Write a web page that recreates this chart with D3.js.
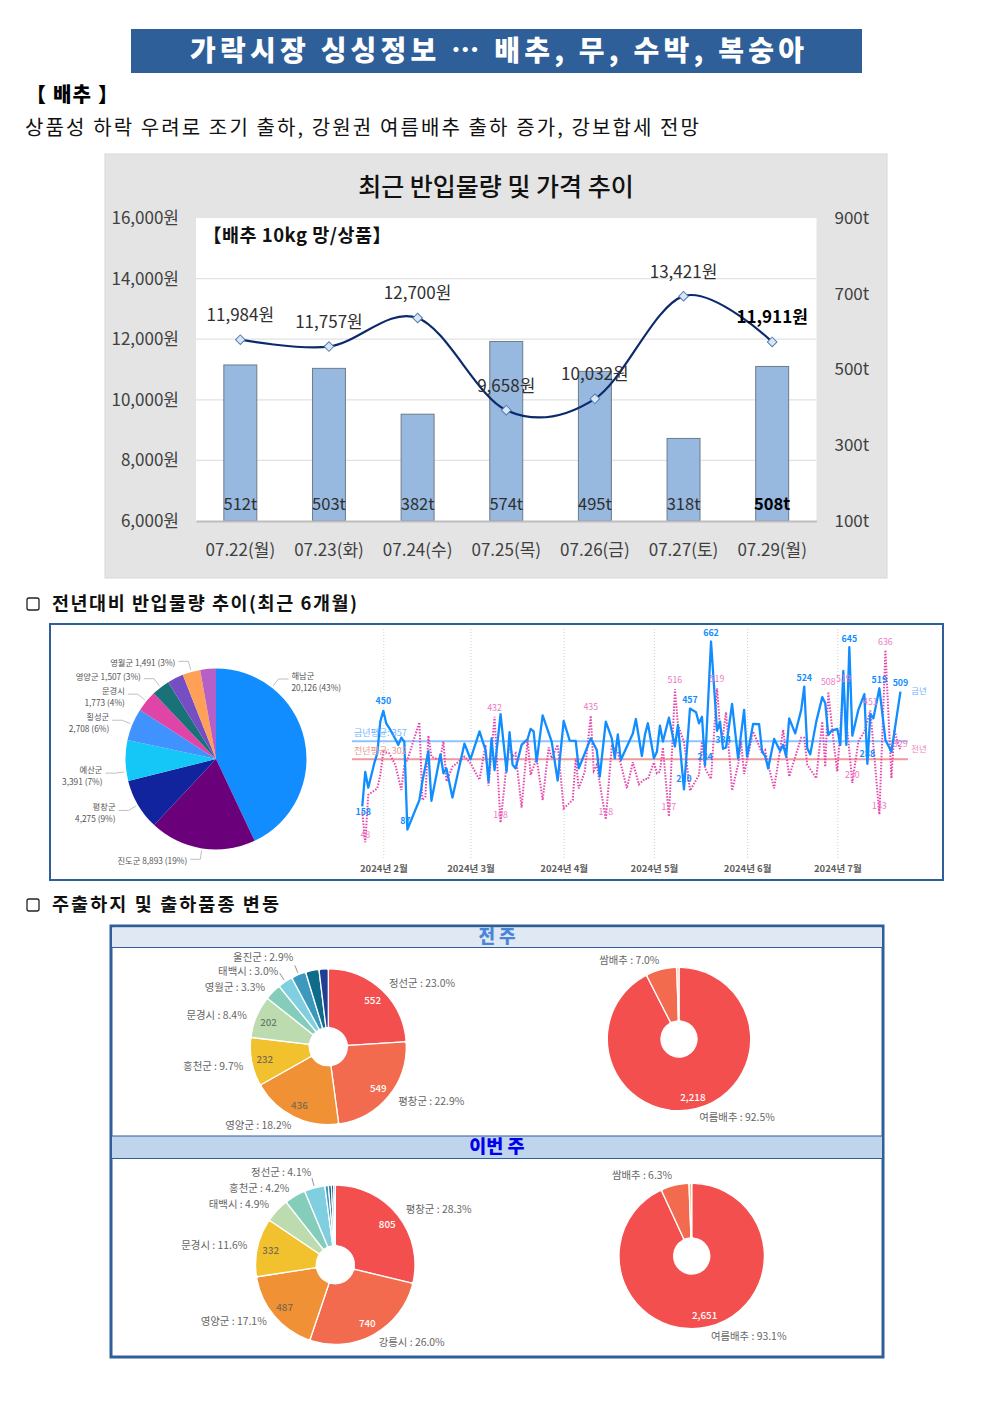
<!DOCTYPE html>
<html>
<head>
<meta charset="utf-8">
<script src="https://cdn.jsdelivr.net/npm/d3@7"></script>
<style>
  html, body { margin: 0; padding: 0; background: #fff; }
  svg { display: block; }
  text { font-family: "Noto Sans CJK KR", "Noto Sans", sans-serif; }
</style>
</head>
<body>
<div id="page"></div>
<script>
// top chart: volume and price
const priceDates = ['07.22(월)', '07.23(화)', '07.24(수)', '07.25(목)', '07.26(금)', '07.27(토)', '07.29(월)'];
const priceValues = [11984, 11757, 12700, 9658, 10032, 13421, 11911];
const volumeValues = [512, 503, 382, 574, 495, 318, 508];
const priceTicks = [6000, 8000, 10000, 12000, 14000, 16000];
const volumeTicks = [100, 300, 500, 700, 900];

// origin pie (last 6 months)
const originNames = ['해남군', '진도군', '평창군', '예산군', '횡성군', '문경시', '영양군', '기타1', '영월군', '기타2'];
const originValues = [20126, 8893, 4275, 3391, 2708, 1773, 1507, 1350, 1491, 1310];
const originPct = ['43%', '19%', '9%', '7%', '6%', '4%', '3%', '', '3%', ''];

// daily volume, day number counted from 2024-02-01
const thisYearDays = [
  -7, -6, -5, -3, -2, -1, 0, 1, 2, 3,
  4, 5, 6, 7, 8, 12, 13, 15, 16, 19,
  20, 21, 23, 27, 29, 32, 34, 35, 36, 37,
  39, 41, 42, 43, 44, 46, 48, 49, 50, 51,
  53, 56, 58, 60, 62, 64, 65, 69, 71, 72,
  74, 76, 77, 78, 79, 83, 84, 86, 87,
  88, 90, 91, 92, 93, 95, 97, 98, 100, 102,
  104, 105, 106, 107, 109, 111, 112, 113, 114, 116,
  118, 120, 121, 123, 125, 126, 127, 128, 130, 132,
  133, 134, 135, 137, 139, 140, 141, 142, 144, 146,
  147, 148, 149, 151, 152, 153, 154, 155, 156, 158,
  160, 161, 162, 163, 165, 167, 169, 172
];
const thisYearValues = [
  158, 263, 215, 290, 320, 417, 450, 411, 397, 381,
  364, 346, 368, 356, 87, 177, 234, 327, 175, 317,
  259, 274, 185, 350, 302, 387, 330, 234, 366, 269,
  440, 264, 385, 285, 274, 346, 364, 395, 387, 295,
  436, 356, 237, 419, 359, 358, 274, 366, 330, 249,
  417, 366, 305, 378, 300, 381, 425, 312, 376,
  412, 305, 325, 405, 356, 429, 341, 407, 210, 457,
  446, 412, 432, 284, 662, 389, 417, 334, 338, 471,
  305, 453, 310, 410, 409, 325, 312, 274, 364, 327,
  346, 310, 427, 381, 453, 524, 336, 317, 417, 492,
  473, 376, 389, 395, 346, 572, 346, 645, 374, 453,
  501, 288, 440, 427, 519, 361, 325, 509
];
const lastYearDays = [
  -7, -6, -5, -2, -1, 0, 2, 4, 6, 7,
  8, 12, 13, 14, 15, 16, 18, 19, 20, 21,
  23, 27, 29, 32, 34, 35, 37, 39, 41, 42,
  43, 44, 46, 48, 49, 51, 53, 55, 56, 58,
  60, 63, 64, 65, 67, 69, 70, 71, 74, 76,
  78, 81, 83, 85, 87,
  88, 90, 91, 92, 93, 95, 97, 98, 100, 101,
  102, 105, 106, 107, 109, 111, 112, 113, 114, 116,
  118, 119, 120, 123, 126, 127, 128, 130, 133, 135,
  139, 140, 141, 144, 146, 147, 148, 150, 151, 153,
  156, 158, 160, 162, 165, 167, 169, 170, 171, 172
];
const lastYearValues = [
  142, 48, 193, 213, 254, 325, 320, 285, 208, 285,
  300, 415, 177, 188, 374, 310, 302, 305, 356, 234,
  279, 310, 290, 239, 346, 221, 432, 108, 285, 346,
  310, 320, 154, 364, 254, 305, 177, 338, 305, 346,
  152, 177, 305, 213, 264, 435, 267, 285, 118, 341,
  325, 213, 293, 225, 242,
  241, 292, 259, 264, 338, 127, 516, 407, 356, 285,
  206, 254, 356, 274, 242, 519, 397, 376, 446, 206,
  285, 356, 257, 387, 320, 330, 285, 213, 392, 249,
  368, 368, 285, 244, 417, 279, 508, 336, 264, 519,
  230, 356, 387, 451, 133, 636, 244, 392, 356, 329
];
const thisYearAvg = 357;
const lastYearAvg = 302;
const monthDays = [0, 29, 60, 90, 121, 151];

// days that carry a number, with [dx, dy] nudges
const thisYearLabelled = [[-7, 1, 5], [0, 0, -10], [8, -2, -9], [100, 0, -11], [102, 0, -9], [107, 0, -9], [109, 0, -9], [113, 0, -9],
  [140, 0, -9], [155, 0, -9], [161, 0, -10], [165, 0, -9], [172, 0, -9]];
const lastYearLabelled = [[-6, 0, -8], [37, 0, -9], [39, 0, -8], [69, 0, -9], [74, 0, -8], [95, 0, -10], [97, 0, -10], [111, 0, -10],
  [148, 0, -10], [153, 0, -10], [156, 0, -8], [162, 0, -9], [165, 0, -9], [167, 0, -9], [172, 0, -7]];

// weekly producing areas and varieties
const prevAreaNames = ['정선군', '평창군', '영양군', '홍천군', '문경시', '영월군', '태백시', '울진군', '기타1', '기타2'];
const prevAreaValues = [552, 549, 436, 232, 202, 79, 72, 70, 64, 44];
const prevAreaPct = ['23.0', '22.9', '18.2', '9.7', '8.4', '3.3', '3.0', '2.9'];
const currAreaNames = ['평창군', '강릉시', '영양군', '문경시', '태백시', '홍천군', '정선군', '기타1', '기타2', '기타3', '기타4'];
const currAreaValues = [805, 740, 487, 332, 140, 120, 117, 20, 17, 13, 9];
const currAreaPct = ['28.3', '26.0', '17.1', '11.6', '4.9', '4.2', '4.1'];
const prevKindNames = ['여름배추', '쌈배추', '기타'];
const prevKindValues = [2218, 168, 12];
const prevKindPct = ['92.5', '7.0'];
const currKindNames = ['여름배추', '쌈배추', '기타'];
const currKindValues = [2651, 179, 17];
const currKindPct = ['93.1', '6.3'];

const W = 992, H = 1403;
const NAVY = '#2f5f98';
const svg = d3.select('#page').append('svg').attr('width', W).attr('height', H).attr('viewBox', `0 0 ${W} ${H}`);

// ---- headings
svg.append('rect').attr('x', 131).attr('y', 29).attr('width', 731).attr('height', 44).attr('fill', NAVY);
svg.append('text').attr('x', 190).attr('y', 61).attr('fill', '#fff')
  .attr('font-size', 28).attr('font-weight', 900).attr('textLength', 614).attr('lengthAdjust', 'spacing')
  .text('가락시장 싱싱정보 … 배추, 무, 수박, 복숭아');
svg.append('text').attr('x', 26).attr('y', 102).attr('font-size', 20).attr('font-weight', 900)
  .attr('textLength', 92).text('【 배추 】');
svg.append('text').attr('x', 25).attr('y', 135).attr('font-size', 20).attr('fill', '#111')
  .attr('textLength', 674).attr('lengthAdjust', 'spacing')
  .text('상품성 하락 우려로 조기 출하, 강원권 여름배추 출하 증가, 강보합세 전망');

function sectionHead(y, label, len) {
  svg.append('rect').attr('x', 27).attr('y', y - 6).attr('width', 12).attr('height', 12).attr('rx', 2)
    .attr('fill', 'none').attr('stroke', '#222').attr('stroke-width', 1.3);
  svg.append('text').attr('x', 52).attr('y', y + 6).attr('font-size', 18.5).attr('font-weight', 700)
    .attr('fill', '#111').attr('textLength', len).text(label);
}
sectionHead(604, '전년대비 반입물량 추이(최근 6개월)', 305);
sectionHead(905, '주출하지 및 출하품종 변동', 227);

// ---- combo chart
const combo = svg.append('g');
combo.append('rect').attr('x', 105).attr('y', 154).attr('width', 782).attr('height', 424)
  .attr('fill', '#e4e4e4').attr('stroke', '#d8d8d8');
combo.append('rect').attr('x', 196).attr('y', 218).attr('width', 620.5).attr('height', 303).attr('fill', '#fff');
combo.append('text').attr('x', 496).attr('y', 196).attr('text-anchor', 'middle').attr('font-size', 25)
  .attr('font-weight', 500).attr('fill', '#111').text('최근 반입물량 및 가격 추이');
combo.append('text').attr('x', 203).attr('y', 242).attr('font-size', 18.5).attr('font-weight', 700)
  .attr('fill', '#111').attr('textLength', 188).text('【배추 10kg 망/상품】');

const bandX = d3.scaleBand().domain(priceDates).range([196, 816.5]).paddingInner(0.628).paddingOuter(0.314);
const priceY = d3.scaleLinear().domain([6000, 16000]).range([521, 218]);
const volumeY = d3.scaleLinear().domain([100, 900]).range([521, 218]);
const midX = d => bandX(d) + bandX.bandwidth() / 2;

combo.append('g').selectAll('line').data(priceTicks.slice(1, -1)).join('line')
  .attr('x1', 196).attr('x2', 816.5).attr('y1', d => priceY(d)).attr('y2', d => priceY(d))
  .attr('stroke', '#e2e2e2').attr('stroke-width', 1.3);

combo.append('g').selectAll('rect').data(volumeValues).join('rect')
  .attr('x', (d, i) => bandX(priceDates[i])).attr('width', bandX.bandwidth())
  .attr('y', d => volumeY(d)).attr('height', d => 521 - volumeY(d))
  .attr('fill', '#97b8df').attr('stroke', '#6f7b8b').attr('stroke-width', 1);

const leftAxis = combo.append('g').attr('transform', 'translate(196,0)')
  .call(d3.axisLeft(priceY).tickValues(priceTicks).tickSize(0).tickPadding(17).tickFormat(d => d3.format(',')(d) + '원'));
const rightAxis = combo.append('g').attr('transform', 'translate(816.5,0)')
  .call(d3.axisRight(volumeY).tickValues(volumeTicks).tickSize(0).tickPadding(18).tickFormat(d => d + 't'));
const bottomAxis = combo.append('g').attr('transform', 'translate(0,521)')
  .call(d3.axisBottom(bandX).tickSize(0).tickPadding(23));
[leftAxis, rightAxis].forEach(a => a.select('.domain').remove());
bottomAxis.select('.domain').attr('stroke', '#bdbdbd').attr('stroke-width', 2);
[leftAxis, rightAxis, bottomAxis].forEach(a => a.selectAll('text')
  .attr('font-family', '"Noto Sans CJK KR"').attr('font-size', 17).attr('fill', '#404040'));

const priceLine = d3.line().x((d, i) => midX(priceDates[i])).y(d => priceY(d)).curve(d3.curveCatmullRom.alpha(0));
combo.append('path').attr('d', priceLine(priceValues)).attr('fill', 'none').attr('stroke', '#0b2a6b').attr('stroke-width', 2.2);
combo.append('g').selectAll('path').data(priceValues).join('path')
  .attr('d', d3.symbol(d3.symbolSquare, 46))
  .attr('transform', (d, i) => `translate(${midX(priceDates[i])},${priceY(d)}) rotate(45)`)
  .attr('fill', '#dce6f2').attr('stroke', '#4f7fb5').attr('stroke-width', 1);

combo.append('g').selectAll('text').data(priceValues).join('text')
  .attr('x', (d, i) => midX(priceDates[i])).attr('y', d => priceY(d) - 26)
  .attr('dominant-baseline', 'central').attr('text-anchor', 'middle').attr('font-size', 17)
  .attr('fill', (d, i) => i === 6 ? '#000' : '#303030').attr('font-weight', (d, i) => i === 6 ? 700 : 400)
  .text(d => d3.format(',')(d) + '원');
combo.append('g').selectAll('text').data(volumeValues).join('text')
  .attr('x', (d, i) => midX(priceDates[i])).attr('y', 503)
  .attr('dominant-baseline', 'central').attr('text-anchor', 'middle').attr('font-size', 16.5)
  .attr('fill', (d, i) => i === 6 ? '#000' : '#303030').attr('font-weight', (d, i) => i === 6 ? 700 : 400)
  .text(d => d + 't');

// ---- second box: pie + trend
svg.append('rect').attr('x', 50).attr('y', 624).attr('width', 893).attr('height', 256)
  .attr('fill', '#fff').attr('stroke', NAVY).attr('stroke-width', 2);

const originColors = ['#118dff', '#6b007b', '#12239e', '#15c7f7', '#4092ff', '#e044a7', '#197278', '#744ec2', '#ffa058', '#b55fc7'];
const originCenter = [216, 759], originR = 90.5;
const originArc = d3.arc().innerRadius(0).outerRadius(originR);
const originPie = d3.pie().sort(null)(originValues);
const originG = svg.append('g').attr('transform', `translate(${originCenter})`);
originG.selectAll('path').data(originPie).join('path')
  .attr('d', originArc).attr('fill', (d, i) => originColors[i]);

// leaders normally leave a slice at its middle, these two sit elsewhere
const leaderAngle = { 0: 38, 3: 262 };
originPie.forEach((d, i) => {
  if (!originPct[i]) return;
  const a = leaderAngle[i] !== undefined ? leaderAngle[i] * Math.PI / 180 : (d.startAngle + d.endAngle) / 2;
  const side = i === 0 ? 1 : -1;
  const pt = r => [Math.sin(a) * r, -Math.cos(a) * r];
  const p1 = pt(originR + 2), p2 = pt(originR + 11), p3 = [p2[0] + side * 10, p2[1]];
  originG.append('path').attr('d', d3.line()([p1, p2, p3])).attr('fill', 'none').attr('stroke', '#b8b8b8').attr('stroke-width', 0.9);
  const value = d3.format(',')(originValues[i]) + ' (' + originPct[i] + ')';
  const oneLine = i === 1 || i === 6 || i === 8;
  const lines = oneLine ? [originNames[i] + ' ' + value] : [originNames[i], value];
  const first = p3[1] + (i === 6 ? 1 : oneLine ? 5 : -0.5);
  const t = originG.append('text').attr('font-size', 8.3).attr('fill', '#555')
    .attr('text-anchor', side > 0 ? 'start' : 'end')
    .attr('x', p3[0] + side * 3).attr('y', first);
  lines.forEach((l, k) => t.append('tspan').attr('x', p3[0] + side * 3).attr('dy', k ? 12 : 0).text(l));
});

// trend
const startDay = new Date(2024, 1, 1);
const dayDate = d => d3.timeDay.offset(startDay, d);
const trendX = d3.scaleTime().domain([dayDate(0), dayDate(151)]).range([383.3, 837.3]);
const trendY = d3.scaleLinear().domain([0, 700]).range([858, 629.1]);

const trendAxis = svg.append('g').attr('transform', 'translate(0,858)')
  .call(d3.axisBottom(trendX).tickValues(monthDays.map(dayDate)).tickSize(-230).tickPadding(4)
    .tickFormat(d3.timeFormat('%Y년 %-m월')));
trendAxis.select('.domain').remove();
trendAxis.selectAll('line').attr('stroke', '#cfcfcf').attr('stroke-dasharray', '1 2');
trendAxis.selectAll('text').attr('font-family', '"Noto Sans CJK KR"').attr('font-size', 9.5).attr('dy', '1.05em')
  .attr('font-weight', 700).attr('fill', '#605e5c');

[[thisYearAvg, '#8cc4ff'], [lastYearAvg, '#ee9a9a']].forEach(([v, c]) => {
  svg.append('line').attr('x1', 352).attr('x2', 908).attr('y1', trendY(v)).attr('y2', trendY(v))
    .attr('stroke', c).attr('stroke-width', 2);
});

const trendLine = d3.line().x(d => trendX(dayDate(d[0]))).y(d => trendY(d[1]));
const lastYear = d3.zip(lastYearDays, lastYearValues);
const thisYear = d3.zip(thisYearDays, thisYearValues);
svg.append('path').attr('d', trendLine(lastYear)).attr('fill', 'none').attr('stroke', '#e645ab')
  .attr('stroke-width', 2).attr('stroke-dasharray', '1.5 1.5');
svg.append('path').attr('d', trendLine(thisYear)).attr('fill', 'none').attr('stroke', '#118dff')
  .attr('stroke-width', 2.3).attr('stroke-linejoin', 'round');

function pointLabels(list, series, color, weight) {
  const byDay = new Map(series);
  svg.append('g').selectAll('text').data(list).join('text')
    .attr('x', d => trendX(dayDate(d[0])) + d[1]).attr('y', d => trendY(byDay.get(d[0])) + d[2])
    .attr('dominant-baseline', 'central').attr('text-anchor', 'middle')
    .attr('font-size', 8.8).attr('font-weight', weight).attr('fill', color)
    .text(d => byDay.get(d[0]));
}
pointLabels(lastYearLabelled, lastYear, '#ee79c2', 400);
pointLabels(thisYearLabelled, thisYear, '#118dff', 700);

svg.append('text').attr('x', 354).attr('y', 735.5).attr('font-size', 9).attr('fill', '#75b6ff').text('금년평균: ' + thisYearAvg);
svg.append('text').attr('x', 354).attr('y', 753.5).attr('font-size', 9).attr('fill', '#e89b90').text('전년평균: ' + lastYearAvg);
svg.append('text').attr('x', 919).attr('y', 693.5).attr('text-anchor', 'middle').attr('font-size', 8.3).attr('fill', '#6fb2ff').text('금년');
svg.append('text').attr('x', 919).attr('y', 752).attr('text-anchor', 'middle').attr('font-size', 8.3).attr('fill', '#ee7fbe').text('전년');

// ---- third box: donuts
svg.append('rect').attr('x', 111).attr('y', 926).attr('width', 772).attr('height', 431)
  .attr('fill', '#fff').attr('stroke', NAVY).attr('stroke-width', 3);
svg.append('rect').attr('x', 112).attr('y', 927.5).attr('width', 770).attr('height', 20).attr('fill', '#dfe8f3');
svg.append('rect').attr('x', 112).attr('y', 1136).attr('width', 770).attr('height', 22.5).attr('fill', '#c0d4eb');
[947.5, 1136, 1158.5].forEach(y => svg.append('line').attr('x1', 112).attr('x2', 882).attr('y1', y).attr('y2', y)
  .attr('stroke', NAVY).attr('stroke-width', 1.2));
svg.append('text').attr('x', 497).attr('y', 942.5).attr('text-anchor', 'middle').attr('font-size', 18)
  .attr('font-weight', 900).attr('fill', '#4a86d8').text('전 주');
svg.append('text').attr('x', 497).attr('y', 1153).attr('text-anchor', 'middle').attr('font-size', 18.5)
  .attr('font-weight', 900).attr('fill', '#0000f0').text('이번 주');

const donutColors = ['#f44f4f', '#f36b4e', '#f09135', '#f2c12e', '#bcdcb0', '#85cdbb', '#80cfe0', '#3c98bd', '#0f6b8a', '#1f3f94', '#2a6fa8'];
const kindColors = ['#f44f4f', '#f36b4e', '#f6c08a'];

// labels: [name index, pct text, dx, dy, anchor] measured from the donut centre
function donut(cx, cy, r, hole, values, colors, inside, names, labels, leaders) {
  const g = svg.append('g').attr('transform', `translate(${cx},${cy})`);
  const arc = d3.arc().innerRadius(hole).outerRadius(r).cornerRadius(2);
  const slices = d3.pie().sort(null)(values);
  g.selectAll('path').data(slices).join('path').attr('d', arc)
    .attr('fill', (d, i) => colors[i]).attr('stroke', '#fff').attr('stroke-width', 1.3);
  inside.forEach(([i, color]) => {
    const mid = (slices[i].startAngle + slices[i].endAngle) / 2;
    g.append('text').attr('x', Math.sin(mid) * r * 0.83).attr('y', -Math.cos(mid) * r * 0.83)
      .attr('dominant-baseline', 'central').attr('text-anchor', 'middle').attr('font-size', 9.8)
      .attr('font-weight', 500).attr('fill', color).text(d3.format(',')(values[i]));
  });
  labels.forEach(([i, pct, dx, dy, anchor]) => {
    g.append('text').attr('x', dx).attr('y', dy).attr('dominant-baseline', 'central').attr('text-anchor', anchor)
      .attr('font-size', 10.4).attr('fill', '#666').text(names[i] + ' : ' + pct + '%');
  });
  leaders.forEach(i => {
    const mid = (slices[i].startAngle + slices[i].endAngle) / 2;
    g.append('line').attr('x1', Math.sin(mid) * (r + 2)).attr('y1', -Math.cos(mid) * (r + 2))
      .attr('x2', Math.sin(mid) * (r + 10)).attr('y2', -Math.cos(mid) * (r + 10))
      .attr('stroke', '#777').attr('stroke-width', 0.8);
  });
}

donut(328.3, 1046.7, 78, 19, prevAreaValues, donutColors,
  [[0, '#fff'], [1, '#fff'], [2, '#7a6a50'], [3, '#7a6a50'], [4, '#6a7a6a']], prevAreaNames,
  [[0, prevAreaPct[0], 60.7, -64.4, 'start'], [1, prevAreaPct[1], 70, 54, 'start'], [2, prevAreaPct[2], -70, 78.3, 'middle'],
   [3, prevAreaPct[3], -85, 19, 'end'], [4, prevAreaPct[4], -81.6, -32.4, 'end'], [5, prevAreaPct[5], -63.3, -60.7, 'end'],
   [6, prevAreaPct[6], -50, -76.4, 'end'], [7, prevAreaPct[7], -35, -90.7, 'end']], [6, 7]);

donut(679, 1039, 71.7, 18, prevKindValues, kindColors, [[0, '#fff']], prevKindNames,
  [[1, prevKindPct[1], -49.7, -79.7, 'middle'], [0, prevKindPct[0], 58, 77, 'middle']], []);

donut(335.3, 1264.7, 79.7, 19, currAreaValues, donutColors,
  [[0, '#fff'], [1, '#fff'], [2, '#7a6a50'], [3, '#7a6a50']], currAreaNames,
  [[0, currAreaPct[0], 70.4, -56, 'start'], [1, currAreaPct[1], 43.4, 77, 'start'], [2, currAreaPct[2], -68.6, 56.3, 'end'],
   [3, currAreaPct[3], -88, -20.7, 'end'], [4, currAreaPct[4], -66.3, -61.4, 'end'], [5, currAreaPct[5], -46, -77.7, 'end'],
   [6, currAreaPct[6], -24, -93, 'end']], [6]);

donut(691.7, 1256, 72.7, 18, currKindValues, kindColors, [[0, '#fff']], currKindNames,
  [[1, currKindPct[1], -49.7, -81.3, 'middle'], [0, currKindPct[0], 57, 79, 'middle']], []);
</script>
</body>
</html>
